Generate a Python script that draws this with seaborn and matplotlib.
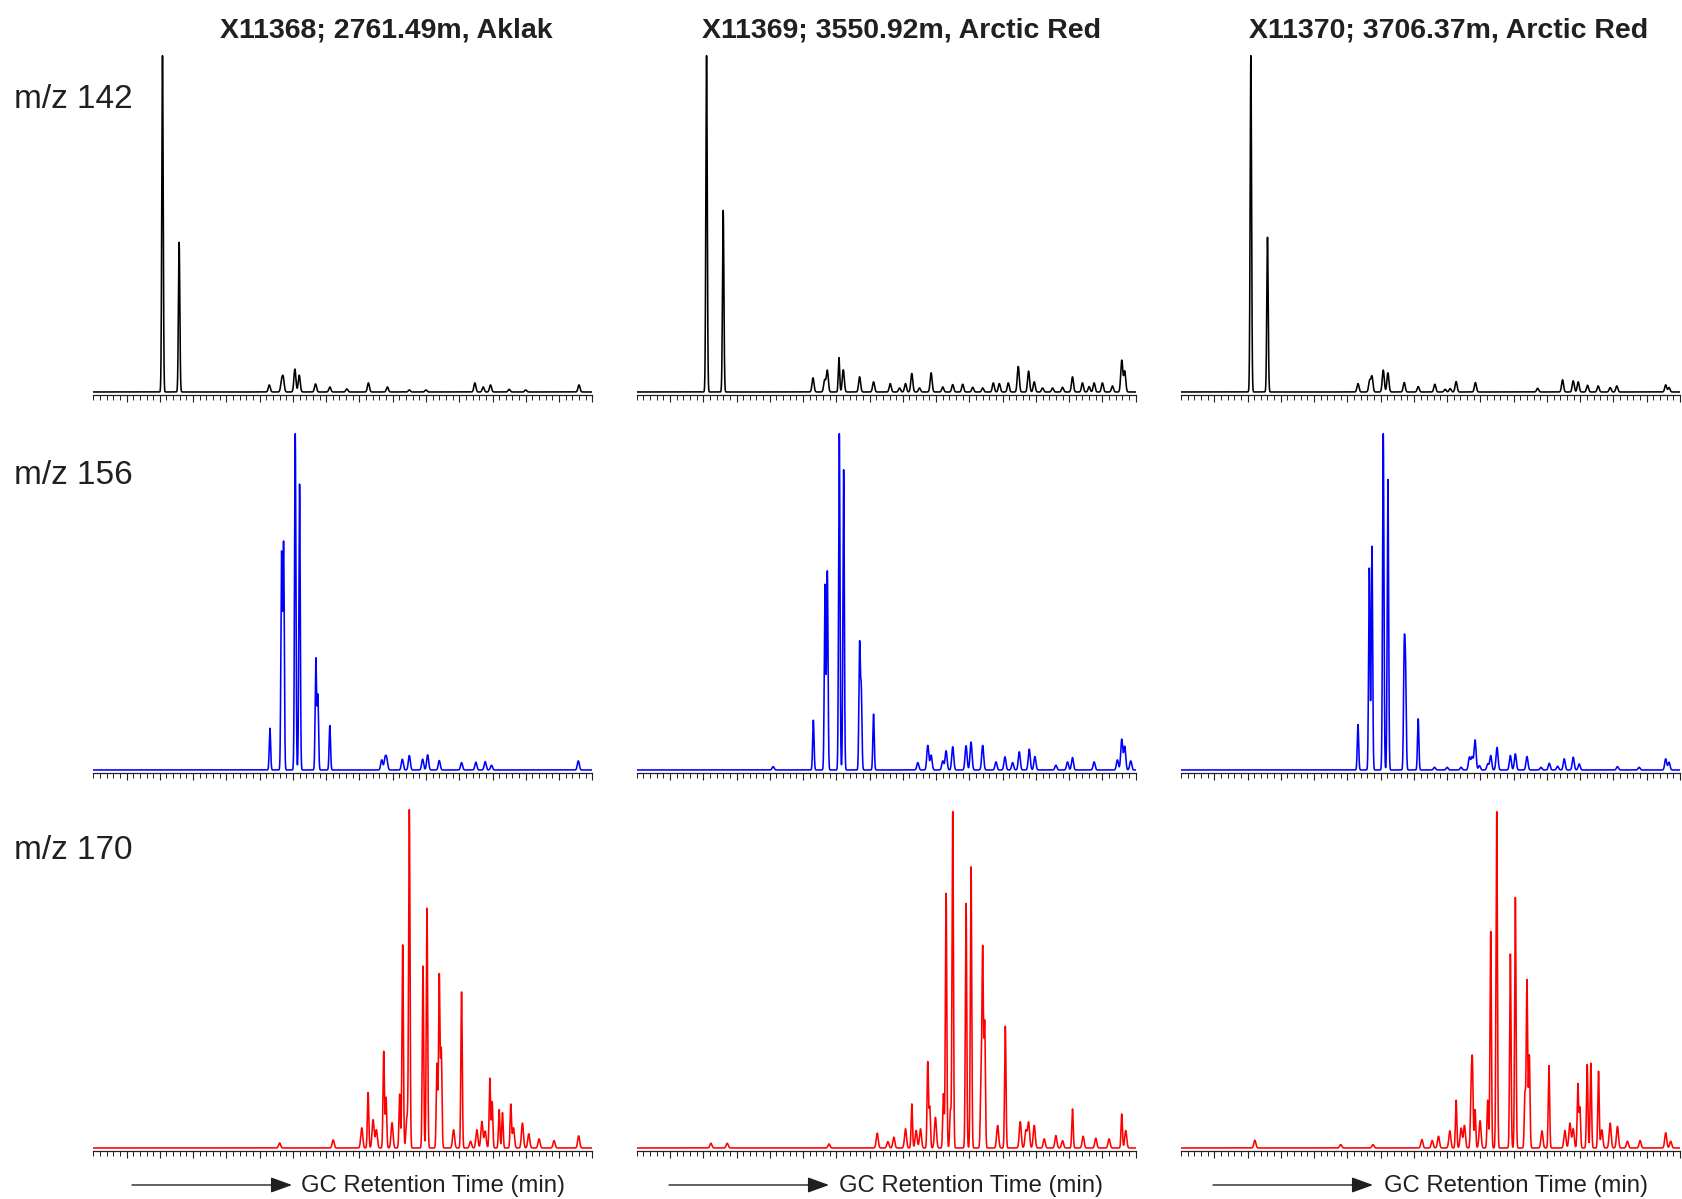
import numpy as np
import pandas as pd
import seaborn as sns
import matplotlib
matplotlib.use("Agg")
import matplotlib.pyplot as plt
from matplotlib.ticker import FixedLocator, MultipleLocator
from matplotlib.patches import FancyArrowPatch

# ---------------------------------------------------------------------------
# Chromatogram peak tables: retention position (relative min) and normalised
# peak height for each sample / ion trace.
# ---------------------------------------------------------------------------
SAMPLES = ["X11368; 2761.49m, Aklak",
           "X11369; 3550.92m, Arctic Red",
           "X11370; 3706.37m, Arctic Red"]
IONS = ["m/z 142", "m/z 156", "m/z 170"]
ION_COLORS = ["#000000", "#0000ff", "#ff0000"]

# m/z 142
MZ142_X11368_RT = [2.08, 2.58, 5.29, 5.66, 5.71, 6.06, 6.19, 6.68, 7.11, 7.62,
                   8.27, 8.84, 9.50, 10.00, 11.47, 11.72, 11.94, 12.50, 13.00,
                   14.60]
MZ142_X11368_H = [1.00, 0.445, 0.021, 0.030, 0.039, 0.068, 0.050, 0.024, 0.015,
                  0.009, 0.027, 0.015, 0.006, 0.006, 0.027, 0.015, 0.021, 0.008,
                  0.006, 0.021]

MZ142_X11369_RT = [2.10, 2.60, 5.30, 5.65, 5.73, 6.08, 6.21, 6.70, 7.12, 7.62,
                   7.90, 8.08, 8.27, 8.50, 8.85, 9.20, 9.50, 9.80, 10.10, 10.40,
                   10.72, 10.90, 11.17, 11.47, 11.78, 11.95, 12.20, 12.50,
                   12.80, 13.10, 13.40, 13.60, 13.75, 14.00, 14.30, 14.58, 14.67]
MZ142_X11369_H = [1.00, 0.54, 0.042, 0.035, 0.064, 0.102, 0.066, 0.045, 0.030,
                  0.025, 0.012, 0.025, 0.055, 0.012, 0.057, 0.015, 0.022, 0.023,
                  0.014, 0.012, 0.027, 0.025, 0.027, 0.076, 0.062, 0.030, 0.012,
                  0.012, 0.014, 0.045, 0.027, 0.016, 0.027, 0.027, 0.018, 0.094,
                  0.062]

MZ142_X11370_RT = [2.10, 2.60, 5.32, 5.67, 5.74, 6.08, 6.22, 6.71, 7.13, 7.63,
                   7.94, 8.09, 8.27, 8.85, 10.72, 11.47, 11.79, 11.94, 12.22,
                   12.54, 12.90, 13.10, 14.57, 14.67]
MZ142_X11370_H = [1.00, 0.46, 0.025, 0.033, 0.046, 0.065, 0.057, 0.028, 0.016,
                  0.023, 0.008, 0.010, 0.031, 0.028, 0.011, 0.036, 0.033, 0.030,
                  0.020, 0.018, 0.013, 0.018, 0.021, 0.013]

# m/z 156
MZ156_X11368_RT = [5.31, 5.66, 5.72, 6.07, 6.20, 6.69, 6.75, 7.11, 8.67, 8.77,
                   8.82, 9.29, 9.50, 9.90, 10.05, 10.40, 11.07, 11.50, 11.78,
                   11.97, 14.58]
MZ156_X11368_H = [0.124, 0.640, 0.670, 1.00, 0.85, 0.330, 0.22, 0.132, 0.030,
                  0.032, 0.030, 0.032, 0.043, 0.032, 0.045, 0.028, 0.022, 0.023,
                  0.025, 0.014, 0.027]

MZ156_X11369_RT = [4.10, 5.31, 5.66, 5.73, 6.09, 6.22, 6.70, 6.75, 7.12, 8.45,
                   8.75, 8.85, 9.20, 9.30, 9.50, 9.90, 10.05, 10.40, 10.80,
                   11.07, 11.30, 11.50, 11.80, 11.97, 12.60, 12.95, 13.10,
                   13.75, 14.45, 14.58, 14.67, 14.85]
MZ156_X11369_H = [0.010, 0.148, 0.550, 0.590, 1.00, 0.893, 0.369, 0.235, 0.166,
                  0.022, 0.073, 0.044, 0.027, 0.057, 0.069, 0.072, 0.083, 0.073,
                  0.024, 0.039, 0.022, 0.054, 0.062, 0.040, 0.014, 0.024, 0.037,
                  0.024, 0.030, 0.091, 0.070, 0.027]

MZ156_X11370_RT = [5.32, 5.66, 5.74, 6.08, 6.22, 6.71, 6.75, 7.13, 7.62, 8.00,
                   8.42, 8.67, 8.75, 8.84, 8.97, 9.22, 9.31, 9.50, 9.90, 10.05,
                   10.40, 10.82, 11.07, 11.32, 11.52, 11.79, 11.97, 13.12,
                   13.77, 14.57, 14.67]
MZ156_X11370_H = [0.135, 0.600, 0.665, 1.00, 0.864, 0.34, 0.28, 0.152, 0.008,
                  0.008, 0.008, 0.038, 0.038, 0.089, 0.013, 0.018, 0.043, 0.067,
                  0.043, 0.048, 0.040, 0.008, 0.020, 0.011, 0.033, 0.038, 0.018,
                  0.010, 0.008, 0.033, 0.023]

# m/z 170
MZ170_X11368_RT = [5.60, 7.21, 8.07, 8.26, 8.41, 8.51, 8.73, 8.80, 8.98, 9.21,
                   9.30, 9.43, 9.50, 9.91, 10.03, 10.33, 10.40, 10.46, 10.83,
                   11.07, 11.34, 11.53, 11.68, 11.78, 11.92, 11.99, 12.20,
                   12.30, 12.55, 12.63, 12.90, 13.09, 13.40, 13.85, 14.59]
MZ170_X11368_H = [0.015, 0.024, 0.060, 0.165, 0.084, 0.054, 0.287, 0.150, 0.075,
                  0.160, 0.604, 0.092, 1.00, 0.541, 0.713, 0.250, 0.513, 0.290,
                  0.054, 0.464, 0.020, 0.054, 0.079, 0.050, 0.207, 0.137, 0.114,
                  0.105, 0.129, 0.060, 0.074, 0.042, 0.027, 0.022, 0.036]

MZ170_X11369_RT = [2.23, 2.72, 5.78, 7.23, 7.55, 7.73, 8.08, 8.27, 8.40, 8.53,
                   8.75, 8.81, 8.98, 9.22, 9.30, 9.43, 9.50, 9.90, 10.05, 10.35,
                   10.40, 10.46, 10.85, 11.08, 11.53, 11.70, 11.78, 11.95,
                   12.25, 12.60, 12.80, 13.10, 13.42, 13.80, 14.20, 14.58,
                   14.70]
MZ170_X11369_H = [0.014, 0.014, 0.012, 0.044, 0.019, 0.032, 0.057, 0.131, 0.052,
                  0.057, 0.255, 0.120, 0.091, 0.161, 0.757, 0.111, 1.00, 0.727,
                  0.836, 0.196, 0.585, 0.370, 0.067, 0.362, 0.078, 0.052, 0.076,
                  0.067, 0.027, 0.037, 0.022, 0.116, 0.035, 0.029, 0.027, 0.101,
                  0.052]

MZ170_X11370_RT = [2.22, 4.80, 5.77, 7.24, 7.55, 7.74, 8.08, 8.27, 8.42, 8.52,
                   8.72, 8.76, 8.84, 8.99, 9.22, 9.31, 9.49, 9.90, 10.05, 10.34,
                   10.40, 10.47, 10.85, 11.06, 11.54, 11.69, 11.79, 11.93,
                   11.99, 12.21, 12.32, 12.55, 12.65, 12.90, 13.12, 13.42,
                   13.80, 14.57, 14.72]
MZ170_X11370_H = [0.023, 0.010, 0.010, 0.025, 0.022, 0.035, 0.051, 0.142, 0.059,
                  0.067, 0.170, 0.240, 0.114, 0.081, 0.142, 0.644, 1.00, 0.577,
                  0.745, 0.161, 0.497, 0.275, 0.051, 0.245, 0.052, 0.074, 0.057,
                  0.190, 0.119, 0.248, 0.252, 0.228, 0.054, 0.074, 0.064, 0.020,
                  0.022, 0.045, 0.020]

PEAKS = [
    [(MZ142_X11368_RT, MZ142_X11368_H), (MZ142_X11369_RT, MZ142_X11369_H),
     (MZ142_X11370_RT, MZ142_X11370_H)],
    [(MZ156_X11368_RT, MZ156_X11368_H), (MZ156_X11369_RT, MZ156_X11369_H),
     (MZ156_X11370_RT, MZ156_X11370_H)],
    [(MZ170_X11368_RT, MZ170_X11368_H), (MZ170_X11369_RT, MZ170_X11369_H),
     (MZ170_X11370_RT, MZ170_X11370_H)],
]

# ---------------------------------------------------------------------------
W, H, DPI = 1682, 1199, 100
INK = "#231f20"
SIGMA_MAJOR = 0.021   # Gaussian width of resolved compounds
SIGMA_MINOR = 0.030   # broader, low-level humps
grid = np.linspace(0.0, 15.0, 6001)


def trace(rt, height):
    rt = np.asarray(rt)[:, None]
    height = np.asarray(height)[:, None]
    sigma = np.where(height >= 0.1, SIGMA_MAJOR, SIGMA_MINOR)
    return (height * np.exp(-0.5 * ((grid[None, :] - rt) / sigma) ** 2)).sum(axis=0)


sns.set_theme(style="white")
plt.rcParams["font.family"] = ["Liberation Sans", "DejaVu Sans"]

fig = plt.figure(figsize=(W / DPI, H / DPI), dpi=DPI)

col_left = [93.3, 636.7, 1181.0]
row_base = [395.0, 773.0, 1151.0]
ax_w, ax_h = 499.0, 346.0

for r in range(3):
    for c in range(3):
        ax = fig.add_axes([col_left[c] / W, 1 - row_base[r] / H, ax_w / W, ax_h / H])
        rt, hh = PEAKS[r][c]
        df = pd.DataFrame({"rt": grid, "signal": trace(rt, hh)})
        sns.lineplot(data=df, x="rt", y="signal", ax=ax, color=ION_COLORS[r],
                     lw=1.15, estimator=None, sort=False)
        ax.set_xlim(0, 15)
        ax.set_ylim(-0.009, 1.02)
        ax.set_xlabel("")
        ax.set_ylabel("")
        ax.set_yticks([])
        ax.xaxis.set_major_locator(FixedLocator(np.arange(1, 16)))
        ax.xaxis.set_minor_locator(MultipleLocator(0.2))
        ax.tick_params(axis="x", which="major", bottom=True, direction="out",
                       length=5.3, width=0.8, color=INK, labelbottom=False)
        ax.tick_params(axis="x", which="minor", bottom=True, direction="out",
                       length=3.6, width=0.7, color=INK)
        for side in ("left", "top", "right"):
            ax.spines[side].set_visible(False)
        ax.spines["bottom"].set_color(INK)
        ax.spines["bottom"].set_linewidth(0.9)
        ax.patch.set_alpha(0)

# column headers
title_cx = [386, 901, 1449]
for c, name in enumerate(SAMPLES):
    fig.text(title_cx[c] / W, 1 - 31 / H, name, ha="center", va="center",
             fontsize=20.5, fontweight="bold", color=INK)

# ion labels
label_cy = [99.5, 475, 850.5]
for r, ion in enumerate(IONS):
    fig.text(14 / W, 1 - label_cy[r] / H, ion, ha="left", va="center",
             fontsize=24, color=INK)

# retention time arrows
arrow_y = 1185
arrow_x0 = [132, 669, 1213]
label_x0 = [301, 839, 1384]
for c in range(3):
    arr = FancyArrowPatch((arrow_x0[c] / W, 1 - arrow_y / H),
                          ((arrow_x0[c] + 160) / W, 1 - arrow_y / H),
                          transform=fig.transFigure,
                          arrowstyle="-|>,head_length=0.55,head_width=0.2",
                          mutation_scale=24, lw=1.0, color=INK,
                          shrinkA=0, shrinkB=0)
    fig.add_artist(arr)
    fig.text(label_x0[c] / W, 1 - (arrow_y + 1) / H, "GC Retention Time (min)",
             ha="left", va="center", fontsize=17.2, color=INK)

fig.savefig("out.png", dpi=DPI, facecolor="white")
